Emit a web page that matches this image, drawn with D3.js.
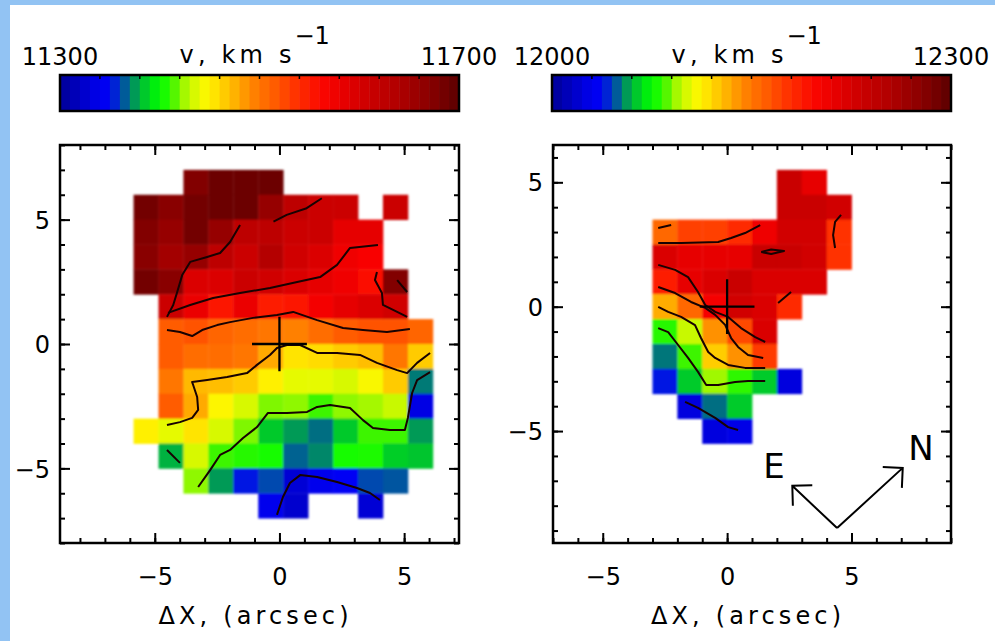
<!DOCTYPE html>
<html>
<head>
<meta charset="utf-8">
<script src="https://cdn.jsdelivr.net/npm/d3@7"></script>
<style>
  html, body { margin: 0; padding: 0; background: #fff; }
  svg { display: block; }
  text { font-family: "DejaVu Sans", sans-serif; fill: #000; }
</style>
</head>
<body>
<svg id="chart" width="995" height="641"></svg>
<script>
// ---- colour table (fraction of range -> colour) ----
const cmapStops  = [0, 0.095, 0.12, 0.15, 0.17, 0.19, 0.22, 0.25, 0.28, 0.31, 0.35, 0.37, 0.40, 0.44, 0.49, 0.54, 0.59, 0.66, 0.70, 0.77, 0.85, 0.92, 0.98, 1.0];
const cmapColors = ["#000096","#0000eb","#0000f5","#003cbe","#006e82","#00a050","#00d71e","#00ff00","#3cf500","#a0f800","#f0fa00","#fff500","#ffd700","#ffaf00","#ff7d00","#ff5a00","#ff3200","#fa0500","#eb0000","#cd0000","#af0000","#8c0000","#690000","#5a0000"];

// ---- left map: velocity field, km/s ----
const leftRange = [11300, 11700];
const leftCols = [-5.35, -4.35, -3.35, -2.35, -1.35, -0.35, 0.65, 1.65, 2.65, 3.65, 4.65, 5.65]; // cell centres, arcsec
const leftRows = [6.5, 5.5, 4.5, 3.5, 2.5, 1.5, 0.5, -0.5, -1.5, -2.5, -3.5, -4.5, -5.5, -6.5];
const leftVel = [
  [null, null, 11675, 11690, 11690, 11690, null, null, null, null, null, null],
  [11685, 11670, 11685, 11690, 11690, 11660, 11625, 11610, 11610, null, 11610, null],
  [11675, 11660, 11685, 11660, 11625, 11625, 11610, 11610, 11585, 11585, null, null],
  [11670, 11650, 11660, 11625, 11610, 11635, 11605, 11595, 11575, 11565, null, null],
  [11685, 11670, 11595, 11595, 11610, 11605, 11595, 11585, 11575, 11560, 11675, null],
  [null, 11610, 11580, 11555, 11580, 11550, 11555, 11570, 11585, 11595, 11605, null],
  [null, 11515, 11520, 11510, 11505, 11500, 11495, 11505, 11515, 11520, 11520, 11510],
  [null, 11515, 11505, 11505, 11500, 11478, 11455, 11458, 11465, 11470, 11500, 11465],
  [null, 11500, 11472, 11470, 11465, 11450, 11438, 11438, 11435, 11445, 11465, 11370],
  [null, 11515, 11478, 11447, 11435, 11420, 11422, 11412, 11422, 11425, 11432, 11335],
  [11450, 11438, 11455, 11435, 11420, 11385, 11375, 11368, 11385, 11412, 11412, 11375],
  [null, 11380, 11435, 11412, 11408, 11404, 11366, 11372, 11404, 11406, 11386, 11384],
  [null, null, 11422, 11375, 11352, 11362, 11328, 11340, 11348, 11362, 11364, null],
  [null, null, null, null, null, 11340, 11325, null, null, 11328, null, null]
];
// iso-velocity contours, arcsec
const leftContours = [
  [[-0.24,4.92],[0.29,5.19],[1.09,5.46],[1.70,5.86]],
  [[-1.58,4.78],[-1.98,4.10],[-2.38,3.66],[-2.90,3.50],[-3.58,3.30],[-3.90,2.77],[-4.10,2.09],[-4.26,1.57],[-4.51,1.09]],
  [[-4.47,1.25],[-3.58,1.57],[-2.66,1.85],[-1.58,2.05],[-0.38,2.25],[0.71,2.49],[1.63,2.69],[2.31,3.18],[2.83,3.86],[3.95,3.98]],
  [[3.91,2.89],[3.83,2.57],[4.11,2.05],[4.15,1.57],[4.72,1.29],[5.12,1.09]],
  [[4.72,2.57],[5.12,2.09]],
  [[-4.51,0.56],[-3.99,0.48],[-3.50,0.32],[-3.10,0.56],[-2.50,0.76],[-1.98,0.88],[-1.06,1.05],[-0.10,1.17],[0.55,1.29],[1.51,0.96],[2.55,0.64],[3.35,0.56],[4.31,0.48],[5.23,0.60]],
  [[-4.51,-3.26],[-3.99,-3.14],[-3.50,-2.97],[-3.26,-2.65],[-3.30,-2.13],[-3.46,-1.65],[-3.50,-1.53],[-2.90,-1.45],[-2.10,-1.33],[-1.30,-1.17],[-0.90,-0.84],[-0.38,-0.44],[-0.10,-0.16],[0.30,-0.04],[0.83,-0.04],[1.51,-0.36],[2.31,-0.36],[3.23,-0.44],[3.91,-0.76],[4.72,-1.05],[5.12,-1.17],[5.52,-0.76],[6.04,-0.36]],
  [[-3.26,-5.75],[-2.78,-5.07],[-2.38,-4.46],[-1.98,-4.26],[-1.46,-3.78],[-0.90,-3.34],[-0.46,-2.77],[0.30,-2.77],[1.11,-2.73],[1.51,-2.53],[2.03,-2.45],[2.83,-2.57],[3.35,-3.06],[3.75,-3.38],[4.43,-3.46],[5.03,-3.46],[5.15,-2.97],[5.32,-1.97],[5.52,-1.45],[6.04,-1.13]],
  [[-4.51,-4.26],[-3.99,-4.78]],
  [[-0.10,-6.87],[0.14,-6.15],[0.42,-5.59],[0.83,-5.27],[1.51,-5.35],[2.31,-5.55],[3.11,-5.79],[3.63,-5.99],[4.03,-6.27]]
];

// ---- right map: velocity field, km/s ----
const rightRange = [12000, 12300];
const rightCols = [-2.5, -1.5, -0.5, 0.5, 1.5, 2.5, 3.5, 4.5];
const rightRows = [5, 4, 3, 2, 1, 0, -1, -2, -3, -4, -5];
const rightVel = [
  [null, null, null, null, null, 12234, 12213, null],
  [null, null, null, null, null, 12234, 12234, 12228],
  [12156, 12172, 12172, 12180, 12207, 12228, 12228, 12177],
  [12222, 12213, 12213, 12213, 12234, 12234, 12228, 12177],
  [12186, 12213, 12222, 12234, 12222, 12222, 12222, null],
  [12133, 12156, 12201, 12228, 12222, 12180, null, null],
  [12081, 12099, 12141, 12168, 12222, null, null, null],
  [12052, 12084, 12123, 12141, 12174, null, null, null],
  [12039, 12064, 12093, 12082, 12064, 12024, null, null],
  [null, 12024, 12051, 12064, null, null, null, null],
  [null, null, 12024, 12027, null, null, null, null]
];
const rightContours = [
  [[-2.77,3.16],[-2.25,3.28]],
  [[-2.77,2.56],[-1.85,2.56],[-0.36,2.60],[0.16,2.76],[0.72,2.96],[1.33,3.28]],
  [[1.37,2.20],[1.77,2.30],[2.29,2.24],[1.77,2.12],[1.37,2.20]],
  [[4.58,3.69],[4.34,3.41],[4.26,2.88],[4.34,2.36]],
  [[-2.77,1.68],[-2.09,1.48],[-1.57,1.19],[-1.17,0.59],[-0.88,0.07],[-0.48,-0.21],[0.04,-0.41],[0.56,-0.86],[1.13,-1.22],[1.53,-1.42]],
  [[-2.77,0.79],[-2.09,0.55],[-1.45,0.19],[-0.88,-0.05],[-0.48,-0.33],[-0.08,-0.73],[0.16,-1.26],[0.44,-1.62],[0.84,-1.94],[1.45,-2.06]],
  [[-2.77,-0.01],[-2.37,-0.21],[-1.85,-0.41],[-1.29,-0.74],[-1.05,-1.26],[-0.76,-1.82],[-0.48,-2.06],[0.04,-2.34],[0.72,-2.46],[1.53,-2.46]],
  [[-2.77,-0.86],[-2.37,-1.02],[-1.97,-1.54],[-1.57,-2.06],[-1.17,-2.62],[-0.84,-3.15],[-0.36,-3.15],[0.32,-3.03],[0.84,-2.99],[1.53,-2.99]],
  [[-1.69,-3.83],[-1.17,-4.07],[-0.48,-4.47],[0.04,-4.84],[0.44,-4.96]],
  [[2.05,0.15],[2.57,0.59]]
];
// orientation arrows (arcsec): common origin, E tip, N tip
const compassOrigin = [4.42, -8.9];
const compassE = [2.62, -7.2];
const compassN = [7.06, -6.48];

const majorTicks = [-5, 0, 5];
const axisTitle = "ΔX, (arcsec)";
const barTitle = "v, km s";

// ---- drawing ----
const svg = d3.select("#chart");
const fmt = d => d < 0 ? "\u2212" + Math.abs(d) : String(d);

// light blue page edge
svg.append("rect").attr("x", 0).attr("y", 0).attr("width", 995).attr("height", 5).attr("fill", "#92c3f3");
svg.append("rect").attr("x", 0).attr("y", 0).attr("width", 10).attr("height", 641).attr("fill", "#92c3f3");

const defs = svg.append("defs");
defs.append("filter").attr("id", "soft").attr("x", "-5%").attr("y", "-5%").attr("width", "110%").attr("height", "110%")
  .append("feGaussianBlur").attr("stdDeviation", 0.8);

const frac = d3.scaleLinear().domain(cmapStops).range(cmapColors).interpolate(d3.interpolateRgb).clamp(true);

function colorBar(x0, x1, range) {
  const g = svg.append("g");
  const bx = d3.scaleLinear().domain([0, 1]).range([x0, x1]);
  const nBands = 40;
  const bands = d3.range(nBands);
  g.selectAll("rect.band").data(bands).join("rect")
    .attr("class", "band")
    .attr("x", i => bx(i / nBands)).attr("y", 75)
    .attr("width", i => bx((i + 1) / nBands) - bx(i / nBands) + 0.5).attr("height", 36)
    .attr("fill", i => frac((i + 0.5) / nBands));
  g.selectAll("line.tk").data(d3.range(1, 10).map(i => i / 10)).join("line")
    .attr("class", "tk")
    .attr("x1", bx).attr("x2", bx).attr("y1", 75).attr("y2", 79)
    .attr("stroke", "#000").attr("stroke-width", 1.5);
  g.append("rect").attr("x", x0).attr("y", 75).attr("width", x1 - x0).attr("height", 36)
    .attr("fill", "none").attr("stroke", "#000").attr("stroke-width", 2.5);
  g.append("text").attr("x", x0).attr("y", 65).attr("text-anchor", "middle").attr("font-size", 24).text(range[0]);
  g.append("text").attr("x", x1).attr("y", 65).attr("text-anchor", "middle").attr("font-size", 24).text(range[1]);
  const cx = (x0 + x1) / 2;
  g.append("text").attr("x", cx + 32).attr("y", 63).attr("text-anchor", "end").attr("font-size", 24)
    .attr("textLength", 112).attr("lengthAdjust", "spacing").text(barTitle);
  g.append("text").attr("x", cx + 35).attr("y", 44).attr("font-size", 24).text("\u22121");
}

function panel(opts) {
  const { xDom, yDom, xPix, cols, rows, vel, range, contours } = opts;
  const x = d3.scaleLinear().domain(xDom).range(xPix);
  const y = d3.scaleLinear().domain(yDom).range([543, 145]);
  const color = v => frac((v - range[0]) / (range[1] - range[0]));
  const g = svg.append("g");

  const cells = [];
  rows.forEach((ry, j) => cols.forEach((cx, i) => {
    const v = vel[j][i];
    if (v != null) cells.push({ cx, ry, v });
  }));
  g.append("g").attr("filter", "url(#soft)")
    .selectAll("rect").data(cells).join("rect")
    .attr("x", d => x(d.cx - 0.5)).attr("y", d => y(d.ry + 0.5))
    .attr("width", d => x(d.cx + 0.5) - x(d.cx - 0.5) + 0.4)
    .attr("height", d => y(d.ry - 0.5) - y(d.ry + 0.5) + 0.4)
    .attr("fill", d => color(d.v));

  const line = d3.line().x(d => x(d[0])).y(d => y(d[1]));
  g.append("g").selectAll("path").data(contours).join("path")
    .attr("d", line).attr("fill", "none")
    .attr("stroke", "#180202").attr("stroke-width", 2).attr("stroke-linejoin", "round");

  // reference position
  const s = 1.1;
  g.append("path")
    .attr("d", `M${x(-s)},${y(0)}H${x(s)}M${x(0)},${y(s)}V${y(-s)}`)
    .attr("stroke", "#000").attr("stroke-width", 2.3).attr("fill", "none");

  // axes: ticks on all four sides, pointing inward
  const xMinor = d3.range(Math.ceil(xDom[0]), Math.floor(xDom[1]) + 1);
  const yMinor = d3.range(Math.ceil(yDom[0]), Math.floor(yDom[1]) + 1);
  const x0 = xPix[0], x1 = xPix[1];
  const axes = [
    [d3.axisBottom(x), 543, null, xMinor], [d3.axisTop(x), 145, null, xMinor],
    [d3.axisLeft(y), null, x0, yMinor], [d3.axisRight(y), null, x1, yMinor]
  ];
  axes.forEach(([ax, ty, tx, minor], k) => {
    const gg = g.append("g").attr("transform", ty != null ? `translate(0,${ty})` : `translate(${tx},0)`);
    gg.call(ax.tickValues(minor).tickSize(-5).tickFormat(""));
    gg.select(".domain").remove();
    gg.selectAll("line").attr("stroke-width", 2);
    const gm = g.append("g").attr("transform", ty != null ? `translate(0,${ty})` : `translate(${tx},0)`);
    const labelled = (k === 0 || k === 2);
    gm.call(ax.tickValues(majorTicks).tickSize(-10).tickPadding(labelled ? (k === 0 ? 19 : 10) : 0).tickFormat(labelled ? fmt : ""));
    gm.select(".domain").remove();
    gm.selectAll("line").attr("stroke-width", 2);
    gm.selectAll("text").attr("font-size", 24).attr("font-family", "DejaVu Sans").attr("fill", "#000");
    if (k === 0) gm.selectAll("text").attr("dy", "0.95em");
    if (k === 2) gm.selectAll("text").attr("dy", "0.36em");
  });
  g.append("rect").attr("x", x0).attr("y", 145).attr("width", x1 - x0).attr("height", 398)
    .attr("fill", "none").attr("stroke", "#000").attr("stroke-width", 2.5);

  g.append("text").attr("x", (x0 + x1) / 2 - 6).attr("y", 624).attr("text-anchor", "middle")
    .attr("font-size", 24).attr("textLength", 190).attr("lengthAdjust", "spacing").text(axisTitle);
  return { x, y, g };
}

colorBar(60, 459, leftRange);
colorBar(552, 951, rightRange);

panel({ xDom: [-8.8, 7.2], yDom: [-8, 8], xPix: [60, 459], cols: leftCols, rows: leftRows, vel: leftVel, range: leftRange, contours: leftContours });
const R = panel({ xDom: [-7, 9], yDom: [-9.5, 6.5], xPix: [553, 951], cols: rightCols, rows: rightRows, vel: rightVel, range: rightRange, contours: rightContours });

// orientation arrows
function arrow(from, to, label, lx, ly) {
  const x1 = R.x(from[0]), y1 = R.y(from[1]), x2 = R.x(to[0]), y2 = R.y(to[1]);
  const a = Math.atan2(y1 - y2, x1 - x2), L = 20, h = Math.PI / 4;
  const p = d3.path();
  p.moveTo(x1, y1); p.lineTo(x2, y2);
  p.moveTo(x2 + L * Math.cos(a + h), y2 + L * Math.sin(a + h)); p.lineTo(x2, y2);
  p.lineTo(x2 + L * Math.cos(a - h), y2 + L * Math.sin(a - h));
  R.g.append("path").attr("d", p.toString()).attr("fill", "none").attr("stroke", "#000").attr("stroke-width", 2);
  R.g.append("text").attr("x", lx).attr("y", ly).attr("text-anchor", "middle").attr("font-size", 34).text(label);
}
arrow(compassOrigin, compassE, "E", 774, 478);
arrow(compassOrigin, compassN, "N", 921, 460);
</script>
</body>
</html>
